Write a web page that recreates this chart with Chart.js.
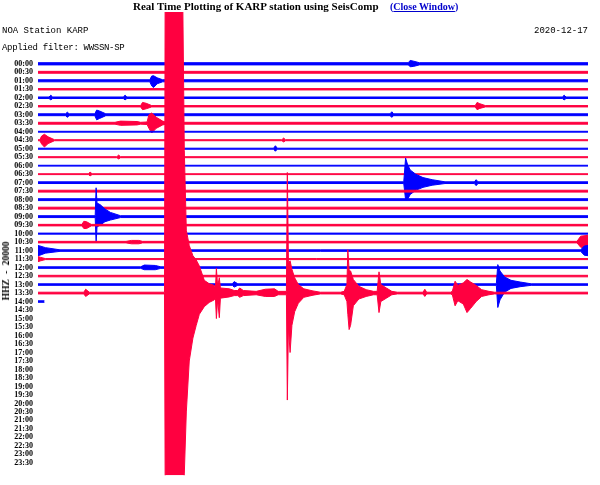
<!DOCTYPE html>
<html>
<head>
<meta charset="utf-8">
<script src="https://cdn.jsdelivr.net/npm/chart.js@4.4.1/dist/chart.umd.min.js"></script>
<style>
  body { margin: 0; background: #fff; }
  #wrap { position: relative; width: 600px; height: 485px; overflow: hidden; background: #fff; }
  #plot { position: absolute; left: 0; top: 0; }
  .hdr { position: absolute; font-family: "Liberation Serif", serif; font-weight: bold; white-space: nowrap; color: #000; }
  .mono { position: absolute; font-family: "Liberation Mono", monospace; font-size: 9px; line-height: 12px; white-space: nowrap; color: #000; }
  #comp { position: absolute; left: 6px; top: 271px; transform: translate(-50%, -50%) rotate(-90deg);
          font-family: "Liberation Serif", serif; font-weight: bold; font-size: 9.5px; word-spacing: 3px; white-space: nowrap; }
</style>
</head>
<body>
<div id="wrap">
  <canvas id="plot" width="600" height="485"></canvas>
  <div class="hdr" style="left:133px; top:0px; font-size:11px; line-height:13px;">Real Time Plotting of KARP station using SeisComp</div>
  <div class="hdr" style="left:390px; top:1px; font-size:10px; line-height:12px; color:#0000cc;">(<u>Close Window</u>)</div>
  <div class="mono" style="left:2px; top:25px;">NOA Station KARP</div>
  <div class="mono" style="left:2px; top:42px; letter-spacing:-0.3px;">Applied filter: WWSSN-SP</div>
  <div class="mono" style="right:12px; top:25px;">2020-12-17</div>
  <div id="comp">HHZ - 20000</div>
</div>
<script>
'use strict';

// one row every half hour, 30 minutes per row
let timeLabels = [
  '00:00', '00:30', '01:00', '01:30', '02:00', '02:30', '03:00', '03:30', '04:00', '04:30',
  '05:00', '05:30', '06:00', '06:30', '07:00', '07:30', '08:00', '08:30', '09:00', '09:30',
  '10:00', '10:30', '11:00', '11:30', '12:00', '12:30', '13:00', '13:30', '14:00', '14:30',
  '15:00', '15:30', '16:00', '16:30', '17:00', '17:30', '18:00', '18:30', '19:00', '19:30',
  '20:00', '20:30', '21:00', '21:30', '22:00', '22:30', '23:00', '23:30'
];

// minutes recorded in each row (last row is still running)
let rowEnd = [30, 30, 30, 30, 30, 30, 30, 30, 30, 30, 30, 30, 30, 30, 30, 30, 30, 30, 30, 30,
  30, 30, 30, 30, 30, 30, 30, 30, 0.35];

// background noise half-amplitude per row, in row spacings
let noise = [0.13, 0.11, 0.12, 0.08, 0.09, 0.08, 0.11, 0.11, 0.05, 0.06,
  0.06, 0.06, 0.05, 0.05, 0.1, 0.11, 0.11, 0.11, 0.11, 0.09,
  0.06, 0.09, 0.09, 0.06, 0.09, 0.09, 0.09, 0.1, 0.09];

// events: [row, [[minute, up, down], ...]]
let bursts = [
  [0, [[20.2, 0.12, 0.12], [20.3, 0.4, 0.35], [20.5, 0.3, 0.3], [20.8, 0.12, 0.12]]],
  [2, [[6.1, 0.12, 0.12], [6.2, 0.55, 0.6], [6.3, 0.6, 0.8], [6.5, 0.35, 0.35], [6.8, 0.12, 0.12]]],
  [4, [[0.6, 0.09, 0.09], [0.7, 0.3, 0.25], [0.8, 0.09, 0.09]]],
  [4, [[4.65, 0.09, 0.09], [4.75, 0.3, 0.25], [4.85, 0.09, 0.09]]],
  [4, [[28.6, 0.09, 0.09], [28.7, 0.3, 0.25], [28.8, 0.09, 0.09]]],
  [5, [[5.6, 0.08, 0.08], [5.7, 0.45, 0.4], [5.9, 0.35, 0.3], [6.2, 0.08, 0.08]]],
  [5, [[23.85, 0.08, 0.08], [23.95, 0.45, 0.4], [24.1, 0.3, 0.25], [24.4, 0.08, 0.08]]],
  [6, [[1.5, 0.11, 0.11], [1.6, 0.3, 0.3], [1.7, 0.11, 0.11]]],
  [6, [[3.1, 0.11, 0.11], [3.2, 0.55, 0.6], [3.35, 0.45, 0.45], [3.7, 0.11, 0.11]]],
  [6, [[19.2, 0.11, 0.11], [19.3, 0.35, 0.3], [19.4, 0.11, 0.11]]],
  [7, [[4.2, 0.11, 0.11], [4.5, 0.25, 0.25], [5.4, 0.2, 0.2], [5.6, 0.11, 0.11]]],
  [7, [[5.95, 0.15, 0.15], [6.05, 1.0, 0.6], [6.2, 1.2, 1.15], [6.45, 0.7, 0.6], [6.8, 0.25, 0.2], [7.0, 0.11, 0.11]]],
  [9, [[0.1, 0.06, 0.06], [0.2, 0.5, 0.45], [0.35, 0.7, 0.8], [0.55, 0.4, 0.4], [0.9, 0.06, 0.06]]],
  [9, [[13.3, 0.06, 0.06], [13.4, 0.25, 0.2], [13.5, 0.06, 0.06]]],
  [10, [[12.85, 0.06, 0.06], [12.95, 0.35, 0.3], [13.05, 0.06, 0.06]]],
  [11, [[4.3, 0.06, 0.06], [4.4, 0.25, 0.2], [4.5, 0.06, 0.06]]],
  [13, [[2.75, 0.05, 0.05], [2.84, 0.25, 0.2], [2.95, 0.05, 0.05]]],
  [14, [[19.95, 0.1, 0.1], [20.05, 2.9, 2.0], [20.15, 2.2, 2.0], [20.3, 1.5, 1.4], [20.6, 1.0, 0.9],
    [21.0, 0.6, 0.55], [21.5, 0.35, 0.3], [22.2, 0.1, 0.1]]],
  [14, [[23.8, 0.1, 0.1], [23.9, 0.35, 0.35], [24.0, 0.1, 0.1]]],
  [18, [[3.12, 0.11, 0.11], [3.17, 3.4, 3.05], [3.22, 1.6, 1.2], [3.4, 1.4, 1.0], [3.65, 0.9, 0.6],
    [3.95, 0.5, 0.4], [4.5, 0.11, 0.11]]],
  [19, [[2.4, 0.09, 0.09], [2.5, 0.45, 0.4], [2.65, 0.4, 0.4], [2.9, 0.09, 0.09]]],
  [21, [[4.8, 0.09, 0.09], [5.1, 0.2, 0.2], [5.5, 0.2, 0.2], [5.7, 0.09, 0.09]]],
  [21, [[29.4, 0.09, 0.09], [29.6, 0.7, 0.6], [30, 0.8, 0.7]]],
  [22, [[0, 0.6, 0.6], [0.1, 0.55, 0.55], [0.4, 0.35, 0.3], [1.2, 0.09, 0.09]]],
  [22, [[29.6, 0.09, 0.09], [29.8, 0.55, 0.55], [30, 0.6, 0.6]]],
  [23, [[0, 0.3, 0.3], [0.15, 0.2, 0.2], [0.4, 0.06, 0.06]]],
  [24, [[5.6, 0.09, 0.09], [5.8, 0.3, 0.25], [6.4, 0.25, 0.25], [6.7, 0.09, 0.09]]],
  [26, [[10.6, 0.09, 0.09], [10.7, 0.35, 0.3], [10.9, 0.09, 0.09]]],
  [26, [[25.0, 0.09, 0.09], [25.08, 2.35, 2.7], [25.2, 1.6, 1.8], [25.45, 0.9, 0.9], [25.8, 0.5, 0.45],
    [26.3, 0.3, 0.25], [26.9, 0.09, 0.09]]],
  [27, [[2.5, 0.1, 0.1], [2.6, 0.45, 0.4], [2.8, 0.1, 0.1]]],
  [27, [[6.9, 0.1, 0.1], [6.94, 40, 25], [7.87, 40, 25], [7.98, 16.8, 21.3], [8.09, 7.4, 14],
    [8.25, 5.6, 8], [8.45, 4.4, 5.3], [8.63, 3.9, 3.8], [8.8, 3.2, 2.5], [9.07, 1.5, 1.6],
    [9.34, 1.1, 1.1], [9.62, 0.9, 0.8], [9.68, 0.6, 0.6], [9.73, 2.9, 3.0], [9.8, 0.8, 0.8],
    [9.89, 1.8, 2.9], [9.95, 0.6, 0.6], [10.44, 0.5, 0.45], [10.7, 0.3, 0.3]]],
  [27, [[10.9, 0.3, 0.3], [11.0, 0.6, 0.5], [11.2, 0.3, 0.3]]],
  [27, [[11.9, 0.2, 0.2], [12.4, 0.45, 0.4], [12.9, 0.5, 0.4], [13.1, 0.2, 0.2]]],
  [27, [[13.55, 0.2, 0.2], [13.6, 14.2, 12.6], [13.66, 3.6, 4], [13.75, 3.8, 7.0], [13.85, 2.8, 3.8],
    [14.0, 1.8, 2.2], [14.2, 1.0, 1.2], [14.5, 0.5, 0.5], [15.0, 0.25, 0.25], [15.4, 0.1, 0.1]]],
  [27, [[16.5, 0.1, 0.1], [16.7, 0.2, 0.2], [16.85, 1.0, 1.0], [16.9, 5.1, 2.5], [16.97, 2.7, 4.3], [17.05, 2.6, 3.8],
    [17.2, 1.6, 1.5], [17.5, 0.8, 0.7], [17.9, 0.4, 0.4], [18.3, 0.2, 0.2]]],
  [27, [[18.5, 0.2, 0.2], [18.6, 2.5, 2.3], [18.7, 1.0, 1.0], [19.0, 0.6, 0.6], [19.3, 0.2, 0.2], [19.6, 0.1, 0.1]]],
  [27, [[21.0, 0.1, 0.1], [21.1, 0.45, 0.4], [21.2, 0.1, 0.1]]],
  [27, [[22.5, 0.1, 0.1], [22.6, 0.2, 0.2], [22.75, 1.4, 1.5], [22.9, 0.9, 0.9], [23.2, 1.2, 1.3], [23.4, 1.6, 2.3],
    [23.6, 1.3, 1.8], [23.9, 0.9, 1.0], [24.2, 0.4, 0.4], [24.6, 0.2, 0.2], [24.9, 0.1, 0.1]]]
];

let blue = '#0000ff';
let red = '#ff0040';

let datasets = [];

for (let i = 0; i < noise.length; i++) {
  let n = noise[i];
  let pts = [];
  bursts.forEach(b => { if (b[0] === i) pts = pts.concat(b[1]); });
  if (!pts.some(p => p[0] === 0)) pts.push([0, n, n]);
  if (!pts.some(p => p[0] === rowEnd[i])) pts.push([rowEnd[i], n, n]);
  pts.sort((a, b) => a[0] - b[0]);

  let col = i % 2 ? red : blue;
  datasets.push({
    data: pts.map(p => ({ x: p[0], y: i - Math.max(n, p[1]) })),
    borderColor: col, backgroundColor: col, borderWidth: 1,
    pointRadius: 0, fill: '+1', order: 200 - 2 * i
  });
  datasets.push({
    data: pts.map(p => ({ x: p[0], y: i + Math.max(n, p[2]) })),
    borderColor: col, backgroundColor: col, borderWidth: 1,
    pointRadius: 0, fill: false, order: 199 - 2 * i
  });
}

let ctx = document.getElementById('plot').getContext('2d');

let heli = new Chart(ctx, {
  type: 'line',
  data: { datasets: datasets },
  options: {
    responsive: false,
    animation: false,
    layout: { padding: { top: 12, bottom: 8, right: 12, left: 0 } },
    plugins: { legend: { display: false }, tooltip: { enabled: false } },
    elements: { line: { tension: 0 } },
    scales: {
      x: { type: 'linear', min: 0, max: 30, display: false },
      y: {
        type: 'linear', reverse: true, min: -6.1, max: 48.45,
        afterBuildTicks: s => { s.ticks = timeLabels.map((_, i) => ({ value: i })); },
        afterFit: s => { s.width = 38; },
        grid: { display: false, drawTicks: false },
        border: { display: false },
        ticks: {
          autoSkip: false, padding: 5, color: '#000',
          font: { family: 'Liberation Serif', weight: 'bold', size: 8 },
          callback: v => timeLabels[v]
        }
      }
    }
  }
});
</script>
</body>
</html>
